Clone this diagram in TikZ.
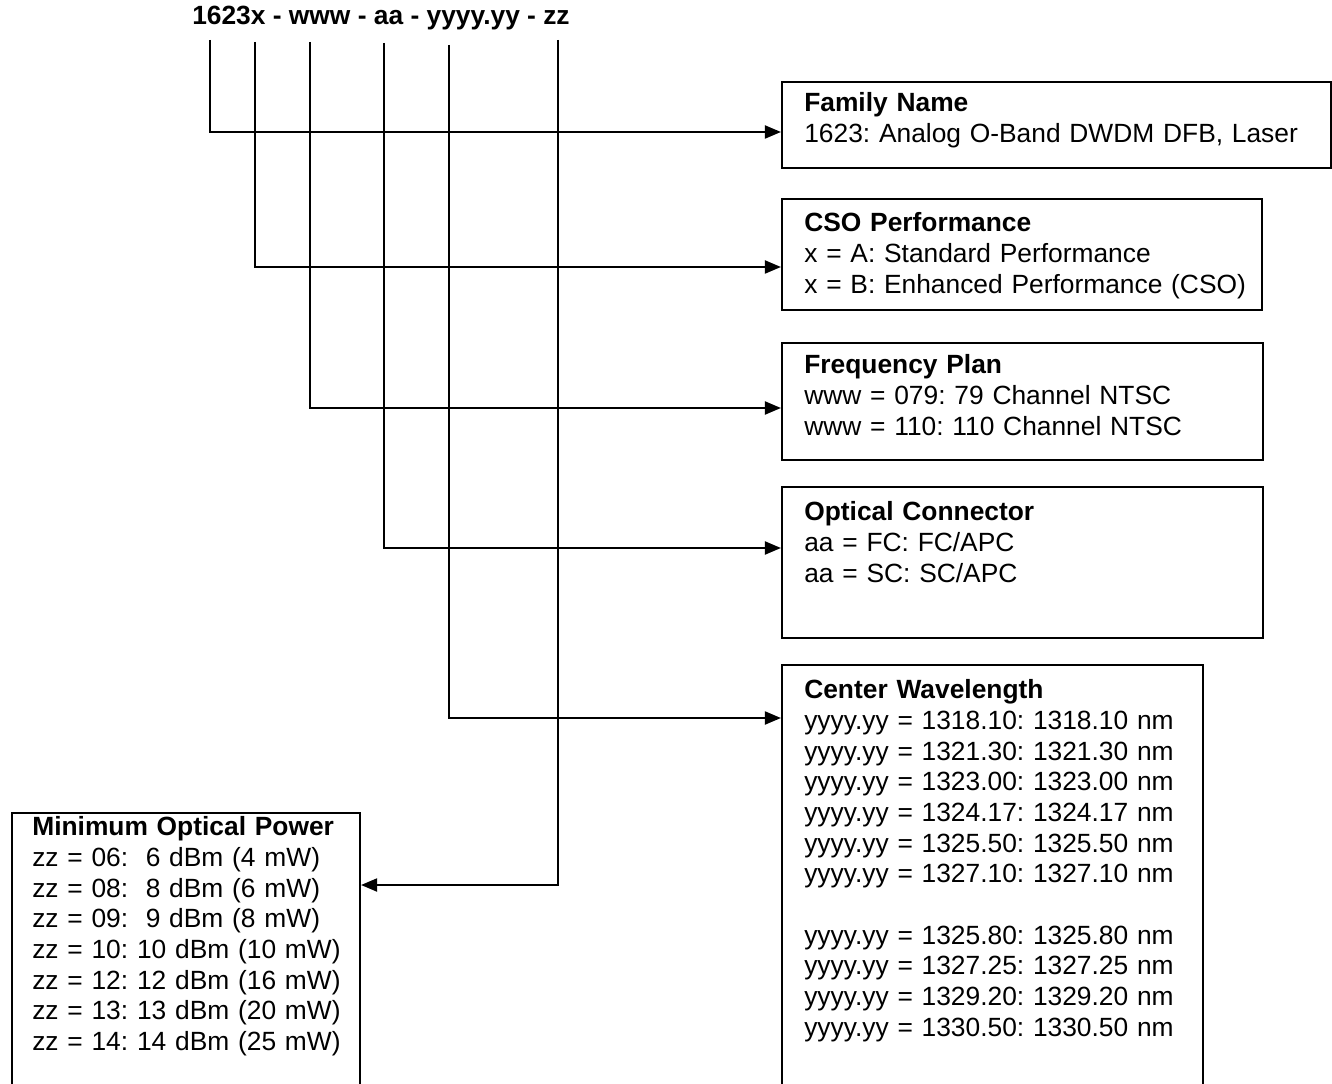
\documentclass[tikz,border=0pt]{standalone}
\usepackage{fontspec}
\setmainfont{Liberation Sans}
\usetikzlibrary{arrows.meta, positioning, calc, fit}
\frenchspacing

\begin{document}
\begin{tikzpicture}[x=0.02cm, y=-0.02cm,
        box/.style={draw, rectangle, inner sep=0pt, line width=1.2pt},
        boxtext/.style={anchor=base west, align=left, text width=11cm, inner sep=0pt,
            font=\fontsize{15}{17.45}\selectfont},
        codetext/.style={anchor=base, inner sep=0pt, font=\fontsize{15}{17.45}\selectfont\bfseries},
        link/.style={line width=1.1pt, -{Triangle[length=0.32cm, width=0.26cm]}}]

        \useasboundingbox (0,0) rectangle (1332,1084);

        % Part number on top
        \node[codetext] (code) at (381,25) {1623x - www - aa - yyyy.yy - zz};

        % Field boxes (the two lower ones run off the page)
        \node[box, fit={(782,82) (1331,168)}] (fam) {};
        \node[box, fit={(782,199) (1262,310)}] (cso) {};
        \node[box, fit={(782,343) (1263,460)}] (freq) {};
        \node[box, fit={(782,487) (1263,638)}] (conn) {};
        \node[box, fit={(782,665) (1203,1100)}] (wave) {};
        \node[box, fit={(12,813) (360,1100)}] (power) {};

        % Box texts
        \node[boxtext] (fam_txt) at ([shift={(23,31)}]fam.north west)
            {\textbf{Family Name}\\1623: Analog O-Band DWDM DFB, Laser};
        \node[boxtext] (cso_txt) at ([shift={(23,34)}]cso.north west)
            {\textbf{CSO Performance}\\x = A: Standard Performance\\x = B: Enhanced Performance (CSO)};
        \node[boxtext] (freq_txt) at ([shift={(23,32)}]freq.north west)
            {\textbf{Frequency Plan}\\www = 079: 79 Channel NTSC\\www = 110: 110 Channel NTSC};
        \node[boxtext] (conn_txt) at ([shift={(23,35)}]conn.north west)
            {\textbf{Optical Connector}\\aa = FC: FC/APC\\aa = SC: SC/APC};
        \node[boxtext] (wave_txt) at ([shift={(23,35)}]wave.north west)
            {\textbf{Center Wavelength}\\
            yyyy.yy = 1318.10: 1318.10 nm\\
            yyyy.yy = 1321.30: 1321.30 nm\\
            yyyy.yy = 1323.00: 1323.00 nm\\
            yyyy.yy = 1324.17: 1324.17 nm\\
            yyyy.yy = 1325.50: 1325.50 nm\\
            yyyy.yy = 1327.10: 1327.10 nm\\[17.45pt]
            yyyy.yy = 1325.80: 1325.80 nm\\
            yyyy.yy = 1327.25: 1327.25 nm\\
            yyyy.yy = 1329.20: 1329.20 nm\\
            yyyy.yy = 1330.50: 1330.50 nm};
        \node[boxtext] (power_txt) at ([shift={(21,24)}]power.north west)
            {\textbf{Minimum Optical Power}\\
            zz = 06:\ \ 6 dBm (4 mW)\\
            zz = 08:\ \ 8 dBm (6 mW)\\
            zz = 09:\ \ 9 dBm (8 mW)\\
            zz = 10: 10 dBm (10 mW)\\
            zz = 12: 12 dBm (16 mW)\\
            zz = 13: 13 dBm (20 mW)\\
            zz = 14: 14 dBm (25 mW)};

        % Free ends of the leader lines under the part number
        \coordinate (fam_top) at (210,40);
        \coordinate (cso_top) at (255,42);
        \coordinate (freq_top) at (310,42);
        \coordinate (conn_top) at (384,43);
        \coordinate (wave_top) at (449,45);
        \coordinate (power_top) at (558,40);

        % Leader lines
        \draw[link] (fam_top) |- (fam.west |- 0,132);
        \draw[link] (cso_top) |- (cso.west |- 0,267);
        \draw[link] (freq_top) |- (freq.west |- 0,408);
        \draw[link] (conn_top) |- (conn.west |- 0,548);
        \draw[link] (wave_top) |- (wave.west |- 0,718);
        \draw[link] (power_top) |- (power.east |- 0,885);
    \end{tikzpicture}
\end{document}
